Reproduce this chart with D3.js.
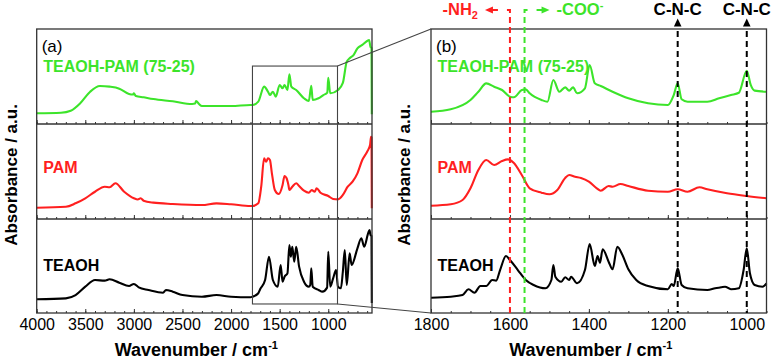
<!DOCTYPE html>
<html><head><meta charset="utf-8">
<script src="https://cdn.jsdelivr.net/npm/d3@7"></script>
<style>body{margin:0;background:#fff} svg{display:block} text{font-family:Arial,"Liberation Sans",sans-serif}</style>
</head><body><svg id="c" width="776" height="360"></svg>
<script>
// ---------- data (wavenumber cm-1, absorbance a.u.) ----------
const sampleNames = ["TEAOH-PAM (75-25)", "PAM", "TEAOH"];
const sampleColors = ["#3ce42a", "#ff1f1f", "#000000"];

const leftComposite = [[4000,11.3],[3750,11.9],[3650,14.0],[3550,22.1],[3450,34.0],[3350,40.0],[3250,39.3],[3150,37.2],[3050,31.6],[3010,31.0],[3000,32.3],[2980,29.5],[2900,28.1],[2800,26.3],[2600,23.9],[2400,21.1],[2370,21.5],[2360,24.2],[2330,21.1],[2300,18.9],[2000,18.9],[1800,20.0],[1780,20.0],[1720,23.5],[1660,39.3],[1620,34.0],[1600,30.5],[1570,34.0],[1540,28.7],[1500,41.1],[1470,37.6],[1450,41.1],[1420,35.8],[1400,52.3],[1380,39.3],[1330,35.8],[1250,27.1],[1200,24.2],[1175,40.3],[1160,25.3],[1100,27.1],[1050,30.5],[1010,33.0],[1000,48.7],[980,32.3],[900,35.8],[850,43.2],[810,65.6],[780,69.2],[740,72.6],[700,79.7],[650,83.2],[600,87.4],[580,88.4],[565,81.0],[555,80.0],[552,10.2]];
const leftPAM = [[4000,11.9],[3700,12.9],[3600,16.5],[3500,21.8],[3400,28.7],[3300,34.0],[3250,33.4],[3190,37.6],[3100,28.7],[3000,21.8],[2960,20.5],[2930,21.8],[2900,19.3],[2800,17.2],[2600,15.8],[2300,14.7],[2150,16.5],[2000,15.5],[1800,13.7],[1780,13.7],[1720,16.5],[1690,34.0],[1660,63.9],[1640,60.3],[1620,63.9],[1600,62.1],[1580,48.1],[1550,30.5],[1510,26.3],[1470,35.8],[1450,45.3],[1430,43.2],[1410,35.8],[1400,30.5],[1370,34.0],[1330,37.6],[1300,34.7],[1250,29.8],[1200,27.7],[1170,30.5],[1140,28.7],[1120,32.3],[1080,27.7],[1000,24.2],[950,21.1],[900,20.7],[850,25.3],[800,34.0],[750,39.3],[700,48.1],[650,62.1],[600,70.8],[570,77.9],[560,86.6],[555,86.0],[552,11.3]];
const leftTEAOH = [[4000,14.6],[3700,15.6],[3600,19.1],[3500,28.0],[3400,35.1],[3300,34.4],[3250,35.9],[3150,32.2],[3050,28.7],[3000,30.9],[2950,27.3],[2850,24.5],[2700,21.6],[2670,24.5],[2600,22.7],[2500,19.1],[2300,17.3],[2150,19.1],[2000,17.3],[1800,16.7],[1780,17.3],[1720,21.0],[1700,25.5],[1650,35.1],[1610,59.9],[1570,35.1],[1520,28.0],[1490,51.1],[1470,33.3],[1450,38.6],[1420,42.2],[1400,72.3],[1385,59.9],[1370,70.5],[1350,54.6],[1330,70.5],[1300,49.3],[1250,33.3],[1200,28.0],[1185,30.0],[1175,47.6],[1160,28.0],[1100,24.5],[1060,22.7],[1012,27.0],[1000,65.2],[980,28.0],[950,36.9],[920,45.7],[900,28.0],[870,26.3],[850,43.9],[830,67.0],[810,29.8],[780,63.5],[760,51.1],[700,68.8],[660,79.5],[630,70.5],[590,84.8],[575,88.3],[565,83.0],[555,82.0],[552,10.6]];

const rightComposite = [[1800,12.9],[1750,15.5],[1700,25.3],[1680,34.0],[1660,42.8],[1640,39.3],[1620,35.8],[1600,28.7],[1590,28.1],[1570,35.8],[1560,36.5],[1550,32.3],[1520,25.3],[1505,23.5],[1490,46.3],[1475,34.0],[1460,38.6],[1450,35.1],[1440,38.6],[1430,32.3],[1410,37.6],[1398,62.1],[1385,42.8],[1370,40.0],[1340,34.0],[1300,27.1],[1250,21.8],[1200,20.0],[1185,30.5],[1175,42.8],[1165,26.0],[1150,23.5],[1100,23.5],[1070,27.1],[1040,30.5],[1020,32.9],[1000,56.1],[990,41.1],[980,35.1],[950,34.0]];
const rightPAM = [[1800,14.0],[1750,15.5],[1720,20.0],[1700,32.3],[1680,51.6],[1660,62.1],[1640,56.8],[1620,61.1],[1605,62.8],[1590,58.9],[1570,46.3],[1550,32.3],[1520,27.7],[1500,26.0],[1480,30.5],[1460,43.2],[1450,46.3],[1435,44.5],[1420,43.2],[1400,39.3],[1380,32.3],[1370,29.8],[1350,34.7],[1340,34.0],[1320,36.8],[1300,34.7],[1250,29.8],[1200,28.7],[1175,31.3],[1150,28.7],[1120,33.4],[1100,31.3],[1050,27.1],[1000,24.2],[950,21.8]];
const rightTEAOH = [[1800,16.3],[1750,17.3],[1720,19.1],[1705,25.2],[1690,21.6],[1675,28.7],[1660,28.7],[1645,35.1],[1635,34.4],[1625,45.7],[1610,60.6],[1600,56.4],[1580,45.7],[1560,35.1],[1540,29.8],[1510,26.3],[1495,35.1],[1490,51.1],[1485,38.6],[1470,33.3],[1460,38.0],[1450,35.1],[1445,38.6],[1430,31.6],[1410,45.7],[1398,73.4],[1385,50.0],[1378,60.6],[1372,53.5],[1365,67.8],[1350,54.6],[1340,46.5],[1328,70.5],[1315,61.7],[1300,46.5],[1280,35.1],[1250,28.7],[1200,25.2],[1190,30.9],[1185,28.7],[1175,47.6],[1165,29.8],[1150,26.3],[1100,24.5],[1080,26.3],[1065,27.3],[1055,28.0],[1040,25.2],[1020,26.3],[1008,45.7],[1000,68.8],[992,42.2],[980,29.8],[960,28.0],[950,31.6]];

const leftMajorTicks = [4000,3500,3000,2500,2000,1500,1000];
const leftMinorTicks = d3.range(4000, 549, -100);
const rightMajorTicks = [1800,1600,1400,1200,1000];
const rightMinorTicks = d3.range(1800, 949, -50);

const markerWN = [1600, 1563, 1175, 1000];
const markerColors = ["#ff1f1f", "#3ce42a", "#000000", "#000000"];
const zoomBoxWN = [1780, 905];

// ---------- layout ----------
const svg = d3.select("#c");
const rows = [[29,124],[124,219],[219,313]];
const xL = d3.scaleLinear().domain([4000, 550]).range([36.7, 372]);
const xR = d3.scaleLinear().domain([1800, 950]).range([431, 766.5]);
const yRow = rows.map(([t,b]) => d3.scaleLinear().domain([0,100]).range([b,t]));
const plotTop = rows[0][0], plotBottom = rows[2][1];
const frame = "#333";

function drawPanel(x, series, major, minor) {
  const g = svg.append("g");
  rows.forEach(([t,b], i) => {
    const last = i === rows.length - 1;
    g.append("g").attr("transform", `translate(0,${b})`)
      .call(d3.axisBottom(x).tickValues(minor).tickSize(-2).tickFormat(""))
      .call(s => { s.select(".domain").remove(); s.selectAll("line").attr("stroke", frame); });
    const ax = g.append("g").attr("transform", `translate(0,${b})`)
      .call(d3.axisBottom(x).tickValues(major).tickSize(-4).tickPadding(6)
        .tickFormat(last ? d3.format("d") : ""))
      .call(s => { s.select(".domain").remove(); s.selectAll("line").attr("stroke", frame); });
    ax.selectAll("text").attr("font-size", 16).attr("fill", "#000").attr("font-family", "Arial, Liberation Sans, sans-serif");
  });
  series.forEach((d, i) => {
    const y = yRow[i];
    g.append("path").datum(d)
      .attr("fill", "none").attr("stroke", sampleColors[i]).attr("stroke-width", 2.1)
      .attr("stroke-linejoin", "round")
      .attr("d", d3.line().x(p => x(p[0])).y(p => y(p[1])).curve(d3.curveMonotoneX));
  });
  const [x0, x1] = x.range();
  g.append("rect").attr("x", x0).attr("y", plotTop).attr("width", x1 - x0).attr("height", plotBottom - plotTop)
    .attr("fill", "none").attr("stroke", frame).attr("stroke-width", 1.3);
  [rows[0][1], rows[1][1]].forEach(yy => g.append("line").attr("x1", x0).attr("x2", x1)
    .attr("y1", yy).attr("y2", yy).attr("stroke", frame).attr("stroke-width", 1.3));
  return g;
}

drawPanel(xL, [leftComposite, leftPAM, leftTEAOH], leftMajorTicks, leftMinorTicks);
drawPanel(xR, [rightComposite, rightPAM, rightTEAOH], rightMajorTicks, rightMinorTicks);

// zoom box + connectors
const bx0 = xL(zoomBoxWN[0]), bx1 = xL(zoomBoxWN[1]);
const by0 = yRow[0](61), by1 = yRow[2](9.6);
svg.append("rect").attr("x", bx0).attr("y", by0).attr("width", bx1 - bx0).attr("height", by1 - by0)
  .attr("fill", "none").attr("stroke", "#444").attr("stroke-width", 1.1);
svg.append("line").attr("x1", bx1).attr("y1", by0).attr("x2", xR.range()[0]).attr("y2", plotTop)
  .attr("stroke", "#444").attr("stroke-width", 1.1);
svg.append("line").attr("x1", bx1).attr("y1", by1).attr("x2", xR.range()[0]).attr("y2", plotBottom)
  .attr("stroke", "#444").attr("stroke-width", 1.1);

// sample labels
[[xL, "(a)"], [xR, "(b)"]].forEach(([x, tag]) => {
  const x0 = x.range()[0];
  svg.append("text").attr("x", x0 + 5).attr("y", 52).attr("font-size", 17).text(tag);
  const base = [71.5, 172.5, 270.5];
  sampleNames.forEach((n, i) => svg.append("text").attr("x", x0 + 6.5).attr("y", base[i])
    .attr("font-size", 16).attr("font-weight", "bold").attr("fill", sampleColors[i]).text(n));
});

// axis titles
[[xL, 17], [xR, 410]].forEach(([x, ly]) => {
  const [x0, x1] = x.range();
  const t = svg.append("text").attr("x", (x0 + x1) / 2 - 8).attr("y", 356)
    .attr("text-anchor", "middle").attr("font-size", 18).attr("font-weight", "bold");
  t.append("tspan").text("Wavenumber / cm");
  t.append("tspan").attr("dy", -7).attr("font-size", 11).text("-1");
  svg.append("text").attr("transform", `translate(${ly},175) rotate(-90)`)
    .attr("text-anchor", "middle").attr("font-size", 17).attr("font-weight", "bold")
    .text("Absorbance / a.u.");
});

// band markers
const dash = "6,4";
markerWN.forEach((wn, i) => {
  const x = xR(wn), c = markerColors[i];
  if (i < 2) {
    const dir = i === 0 ? -1 : 1;
    svg.append("path").attr("d", `M${x},${plotBottom}V10H${x + dir * 6}`)
      .attr("fill", "none").attr("stroke", c).attr("stroke-width", 2).attr("stroke-dasharray", dash);
    svg.append("line").attr("x1", x + dir * 12).attr("x2", x + dir * 18).attr("y1", 10).attr("y2", 10)
      .attr("stroke", c).attr("stroke-width", 2);
    svg.append("path").attr("d", `M${x + dir * 17},6.5L${x + dir * 25},10L${x + dir * 17},13.5Z`).attr("fill", c);
    const t = svg.append("text").attr("x", x + dir * 32).attr("y", 15)
      .attr("text-anchor", i === 0 ? "end" : "start")
      .attr("font-size", 16.5).attr("font-weight", "bold").attr("fill", c);
    if (i === 0) {
      t.append("tspan").text("-NH");
      t.append("tspan").attr("dy", 4).attr("font-size", 11).text("2");
    } else {
      t.append("tspan").text("-COO");
      t.append("tspan").attr("dy", -6).attr("font-size", 11).text("-");
    }
  } else {
    svg.append("line").attr("x1", x).attr("x2", x).attr("y1", 31).attr("y2", plotBottom)
      .attr("stroke", c).attr("stroke-width", 2).attr("stroke-dasharray", dash);
    svg.append("path").attr("d", `M${x},18.5L${x + 3.8},26.5L${x - 3.8},26.5Z`).attr("fill", c);
    svg.append("text").attr("x", x).attr("y", 15).attr("text-anchor", "middle")
      .attr("font-size", 17).attr("font-weight", "bold").text("C-N-C");
  }
});
</script></body></html>
